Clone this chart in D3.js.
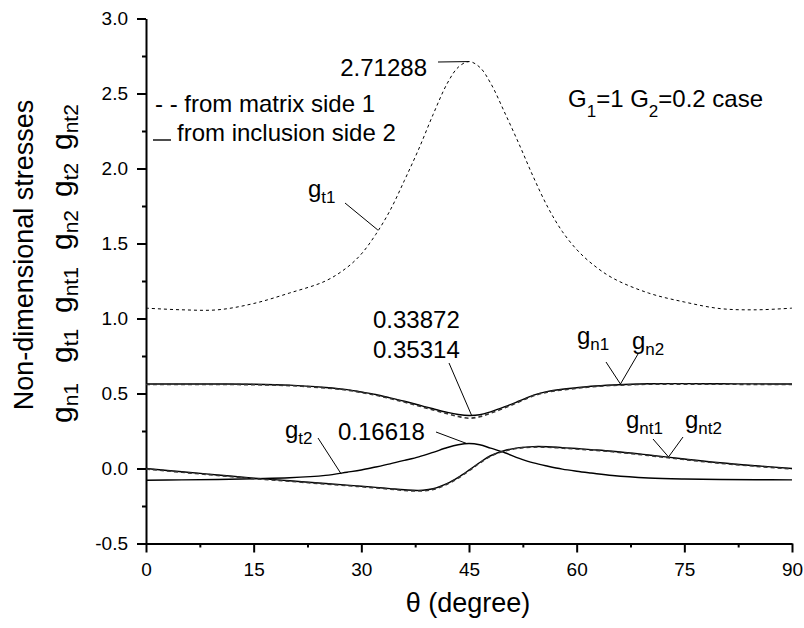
<!DOCTYPE html>
<html>
<head>
<meta charset="utf-8">
<script src="https://cdn.jsdelivr.net/npm/d3@7"></script>
<style>
  body { margin: 0; background: #fff; }
  svg { font-family: "Liberation Sans", Arial, sans-serif; }
  .axis path, .axis line { stroke: #000; stroke-width: 2; }
  .axis text { font-size: 19px; fill: #000; }
  .curve { fill: none; }
  .pointer { stroke: #000; stroke-width: 1; }
</style>
</head>
<body>
<svg id="chart"></svg>
<script>
// theta grid (degree) shared by all series
const theta = [0, 5, 10, 15, 20, 25, 28, 30, 32, 34, 36, 38, 40, 42, 43.5, 45,
  46.5, 48, 50, 52, 54, 56, 58, 60, 62, 65, 70, 75, 80, 85, 90];

// from matrix side 1 (dashed)
const gt1 = [1.069, 1.058, 1.058, 1.10, 1.17, 1.25, 1.34, 1.43, 1.56, 1.72, 1.92, 2.13, 2.36, 2.57, 2.675, 2.71288,
  2.675, 2.57, 2.37, 2.16, 1.94, 1.74, 1.58, 1.46, 1.37, 1.27, 1.17, 1.11, 1.066, 1.058, 1.069];
const gn1 = [0.563, 0.563, 0.563, 0.562, 0.556, 0.540, 0.526, 0.510, 0.492, 0.470, 0.446, 0.420, 0.394, 0.368, 0.350, 0.33872,
  0.348, 0.372, 0.408, 0.448, 0.488, 0.513, 0.527, 0.538, 0.548, 0.557, 0.565, 0.566, 0.565, 0.564, 0.563];
const gnt1 = [0, -0.022, -0.043, -0.064, -0.082, -0.100, -0.111, -0.118, -0.126, -0.134, -0.143, -0.147, -0.136, -0.100, -0.060, -0.012,
  0.040, 0.085, 0.120, 0.139, 0.146, 0.145, 0.139, 0.133, 0.126, 0.115, 0.090, 0.063, 0.038, 0.018, 0];

// from inclusion side 2 (solid)
const gn2 = [0.563, 0.563, 0.563, 0.562, 0.556, 0.540, 0.526, 0.510, 0.493, 0.471, 0.448, 0.423, 0.398, 0.374, 0.360, 0.35314,
  0.358, 0.378, 0.412, 0.450, 0.489, 0.514, 0.528, 0.538, 0.548, 0.557, 0.565, 0.566, 0.565, 0.564, 0.563];
const gt2 = [-0.078, -0.076, -0.073, -0.068, -0.062, -0.046, -0.025, -0.010, 0.010, 0.031, 0.054, 0.078, 0.108, 0.140, 0.158, 0.16618,
  0.158, 0.136, 0.105, 0.068, 0.037, 0.015, -0.004, -0.018, -0.030, -0.047, -0.063, -0.070, -0.073, -0.075, -0.076];
const gnt2 = [0, -0.022, -0.043, -0.064, -0.082, -0.100, -0.111, -0.118, -0.126, -0.134, -0.142, -0.146, -0.135, -0.099, -0.059, -0.011,
  0.040, 0.085, 0.120, 0.139, 0.146, 0.145, 0.139, 0.133, 0.126, 0.115, 0.090, 0.063, 0.038, 0.018, 0];

const xMajor = [0, 15, 30, 45, 60, 75, 90];
const xMinor = [7.5, 22.5, 37.5, 52.5, 67.5, 82.5];
const yMajor = [-0.5, 0.0, 0.5, 1.0, 1.5, 2.0, 2.5, 3.0];
const yMinor = [-0.25, 0.25, 0.75, 1.25, 1.75, 2.25, 2.75];

const width = 804;
const height = 628;

const svg = d3.select("#chart").attr("width", width).attr("height", height);

const x = d3.scaleLinear().domain([0, 90]).range([146, 792]);
const y = d3.scaleLinear().domain([-0.5, 3.0]).range([543.5, 18.5]);

// axes
svg.append("g")
  .attr("class", "axis")
  .attr("transform", `translate(0,${y(-0.5)})`)
  .call(d3.axisBottom(x).tickValues(xMinor).tickSize(4).tickFormat(""))
  .call((g) => g.select(".domain").remove());
svg.append("g")
  .attr("class", "axis")
  .attr("transform", `translate(0,${y(-0.5)})`)
  .call(d3.axisBottom(x).tickValues(xMajor).tickSize(9).tickSizeOuter(0).tickPadding(10).tickFormat((d) => d));

svg.append("g")
  .attr("class", "axis")
  .attr("transform", `translate(${x(0)},0)`)
  .call(d3.axisLeft(y).tickValues(yMinor).tickSize(4).tickFormat(""))
  .call((g) => g.select(".domain").remove());
svg.append("g")
  .attr("class", "axis")
  .attr("transform", `translate(${x(0)},0)`)
  .call(d3.axisLeft(y).tickValues(yMajor).tickSize(9).tickSizeOuter(0).tickPadding(9).tickFormat((d) => d.toFixed(1)));

// curves
const line = d3.line()
  .x((d) => x(d[0]))
  .y((d) => y(d[1]))
  .curve(d3.curveCatmullRom.alpha(0.5));

function series(values) {
  return theta.map((t, i) => [t, values[i]]);
}

const plot = svg.append("g");

[gn2, gt2, gnt2].forEach((values) => {
  plot.append("path")
    .attr("class", "curve")
    .attr("d", line(series(values)))
    .attr("stroke", "#000")
    .attr("stroke-width", 1.4);
});

[gn1, gnt1].forEach((values) => {
  plot.append("path")
    .attr("class", "curve")
    .attr("d", line(series(values)))
    .attr("stroke", "#333")
    .attr("stroke-width", 1.6)
    .attr("stroke-dasharray", "4,3")
    .attr("transform", "translate(0,0.5)");
});

plot.append("path")
  .attr("class", "curve")
  .attr("d", line(series(gt1)))
  .attr("stroke", "#000")
  .attr("stroke-width", 1)
  .attr("stroke-dasharray", "3,3");

// labels with subscripts
function label(x0, y0, main, sub, size, subSize, subDy) {
  const t = svg.append("text")
    .attr("x", x0)
    .attr("y", y0)
    .style("font-size", `${size}px`);
  t.append("tspan").text(main);
  if (sub) {
    t.append("tspan").attr("dy", subDy).style("font-size", `${subSize}px`).text(sub);
  }
  return t;
}

function pointer(x1, y1, x2, y2) {
  svg.append("line")
    .attr("class", "pointer")
    .attr("x1", x1).attr("y1", y1)
    .attr("x2", x2).attr("y2", y2);
}

label(427, 76, "2.71288", null, 24).attr("text-anchor", "end");
pointer(438, 62, x(45), y(2.71288));

label(308, 197, "g", "t1", 24, 17, 6);
pointer(345, 203, x(32.3), y(1.59));

label(373, 328, "0.33872", null, 24);
label(373, 358, "0.35314", null, 24);
pointer(449, 363, x(45.4), y(0.35));

label(577, 344, "g", "n1", 24, 17, 6);
label(632, 349, "g", "n2", 24, 17, 6);
pointer(606, 362, x(66.1), y(0.563));
pointer(638, 354, x(66.1), y(0.563));

label(626, 428, "g", "nt1", 24, 17, 6);
label(685, 428, "g", "nt2", 24, 17, 6);
pointer(653, 439, x(72.8), y(0.077));
pointer(683, 437, x(72.8), y(0.077));

label(285, 438, "g", "t2", 24, 17, 6);
pointer(318, 438, x(27.2), y(-0.037));

label(338, 440, "0.16618", null, 24);
pointer(436, 432, x(44.6), y(0.168));

// legend
label(155, 112, "- - from matrix side 1", null, 24);
svg.append("line")
  .attr("x1", 153).attr("x2", 171)
  .attr("y1", 140).attr("y2", 140)
  .attr("stroke", "#000").attr("stroke-width", 1.4);
label(177, 141, "from inclusion side 2", null, 24);

// case note
const note = svg.append("text").attr("x", 568).attr("y", 107).style("font-size", "24px");
note.append("tspan").text("G");
note.append("tspan").attr("dy", 10).style("font-size", "17px").text("1");
note.append("tspan").attr("dy", -10).text("=1 G");
note.append("tspan").attr("dy", 10).style("font-size", "17px").text("2");
note.append("tspan").attr("dy", -10).text("=0.2 case");

// axis titles
svg.append("text")
  .attr("x", 468)
  .attr("y", 612)
  .attr("text-anchor", "middle")
  .style("font-size", "27px")
  .text("θ (degree)");

const yTitle = svg.append("g").attr("transform", "rotate(-90)");
yTitle.append("text")
  .attr("x", -255)
  .attr("y", 33)
  .attr("text-anchor", "middle")
  .style("font-size", "27px")
  .text("Non-dimensional stresses");

const yTokens = [["n1", 423], ["t1", 363], ["nt1", 313], ["n2", 250], ["t2", 197], ["nt2", 150]];
yTokens.forEach(([sub, start]) => {
  const t = yTitle.append("text")
    .attr("x", -start)
    .attr("y", 72)
    .style("font-size", "30px");
  t.append("tspan").text("g");
  t.append("tspan").attr("dy", 6).style("font-size", "21px").text(sub);
});
</script>
</body>
</html>
